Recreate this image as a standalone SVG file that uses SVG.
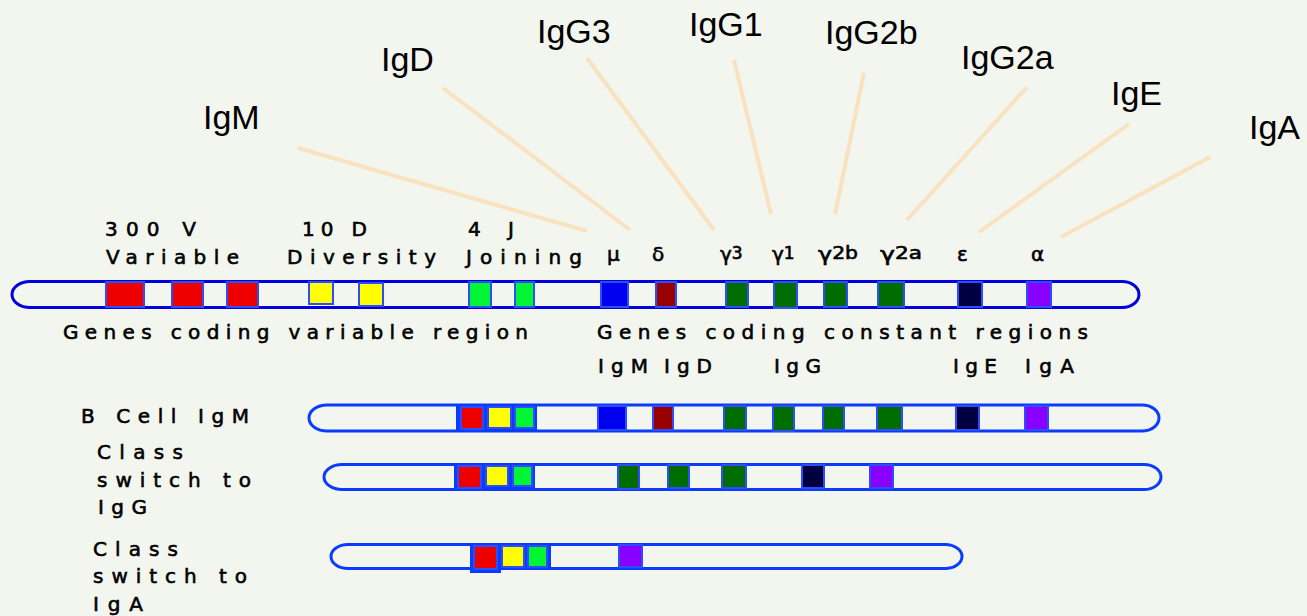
<svg xmlns="http://www.w3.org/2000/svg" width="1307" height="616" viewBox="0 0 1307 616">
<style>
.bg{fill:#f3f5ef}
.lead{stroke:#f8e2c0;stroke-width:4;fill:none;stroke-linecap:butt}
.big{font-family:"Liberation Sans",Arial,sans-serif;font-size:34px;fill:#000}
.px{font-family:"DejaVu Sans","Liberation Sans",sans-serif;font-size:20px;fill:#000;stroke:#000;stroke-width:0.6}
.bar0{fill:#f3f5ef;stroke:#0000dd;stroke-width:3}
.bar{fill:#f3f5ef;stroke:#0a3cff;stroke-width:3}
.g{stroke:#2b4cff;stroke-width:2}
.blk{fill:#0a3cff}
.red{fill:#ee0000}.yel{fill:#ffff00}.lg{fill:#00f633}.dg{fill:#006d00}
.blu{fill:#0000ee}.dr{fill:#990000}.nv{fill:#000040}.pu{fill:#8800ff}
</style>
<rect class="bg" x="0" y="0" width="1307" height="616"/>

<g id="connectors">
<line class="lead" x1="298" y1="148" x2="587" y2="231"/>
<line class="lead" x1="443" y1="88" x2="630" y2="230"/>
<line class="lead" x1="587" y1="58" x2="714" y2="230"/>
<line class="lead" x1="734" y1="60" x2="771" y2="214"/>
<line class="lead" x1="864" y1="73" x2="835" y2="214"/>
<line class="lead" x1="1027" y1="87" x2="907" y2="220"/>
<line class="lead" x1="1129" y1="124" x2="979" y2="232"/>
<line class="lead" x1="1210" y1="157" x2="1061" y2="237"/>
</g>

<g id="label-IgM"><text class="big" x="203" y="129">IgM</text></g>
<g id="label-IgD"><text class="big" x="381" y="71">IgD</text></g>
<g id="label-IgG3"><text class="big" x="537" y="43">IgG3</text></g>
<g id="label-IgG1"><text class="big" x="689" y="36">IgG1</text></g>
<g id="label-IgG2b"><text class="big" x="825" y="44">IgG2b</text></g>
<g id="label-IgG2a"><text class="big" x="961" y="69">IgG2a</text></g>
<g id="label-IgE"><text class="big" x="1111" y="105">IgE</text></g>
<g id="label-IgA"><text class="big" x="1249" y="139">IgA</text></g>

<g id="germline">
<text class="px" x="105" y="236" textLength="91" lengthAdjust="spacing">300 V</text>
<text class="px" x="106" y="264" textLength="133" lengthAdjust="spacing">Variable</text>
<text class="px" x="302" y="236" textLength="65" lengthAdjust="spacing">10 D</text>
<text class="px" x="287" y="264" textLength="149" lengthAdjust="spacing">Diversity</text>
<text class="px" x="468" y="236" textLength="46" lengthAdjust="spacing">4 J</text>
<text class="px" x="466" y="264" textLength="116" lengthAdjust="spacing">Joining</text>
<text class="px" x="607" y="261">μ</text>
<text class="px" x="652" y="261">δ</text>
<text class="px" x="720" y="261">γ<tspan font-size="17" dy="-2">3</tspan></text>
<text class="px" x="772" y="261">γ<tspan font-size="17" dy="-2">1</tspan></text>
<text class="px" x="818" y="261" textLength="40" lengthAdjust="spacingAndGlyphs">γ<tspan font-size="17" dy="-2">2b</tspan></text>
<text class="px" x="880" y="261" textLength="42" lengthAdjust="spacingAndGlyphs">γ<tspan font-size="17" dy="-2">2a</tspan></text>
<text class="px" x="957" y="261">ε</text>
<text class="px" x="1031" y="261">α</text>
<path class="bar0" d="M30,281.5 H1122 A17,13 0 0 1 1122,307.5 H30 A18,13 0 0 1 30,281.5 Z"/>
<g class="g">
<rect class="red" x="106" y="282" width="38" height="25"/>
<rect class="red" x="172" y="282" width="31" height="25"/>
<rect class="red" x="227" y="282" width="31" height="25"/>
<rect class="yel" x="309" y="282" width="24" height="22"/>
<rect class="yel" x="359" y="283" width="24" height="23"/>
<rect class="lg" x="469" y="282" width="22" height="25"/>
<rect class="lg" x="515" y="282" width="19" height="25"/>
<rect class="blu" x="601" y="282" width="27" height="25"/>
<rect class="dr" x="656" y="282" width="20" height="25"/>
<rect class="dg" x="726" y="282" width="22" height="25"/>
<rect class="dg" x="774" y="282" width="23" height="26"/>
<rect class="dg" x="824" y="282" width="23" height="25"/>
<rect class="dg" x="878" y="282" width="26" height="25"/>
<rect class="nv" x="958" y="282" width="24" height="25"/>
<rect class="pu" x="1027" y="282" width="24" height="25"/>
</g>
<text class="px" x="63" y="339" textLength="465" lengthAdjust="spacing">Genes coding variable region</text>
<text class="px" x="597" y="339" textLength="491" lengthAdjust="spacing">Genes coding constant regions</text>
<text class="px" x="598" y="373" textLength="50" lengthAdjust="spacing">IgM</text>
<text class="px" x="664" y="373" textLength="48" lengthAdjust="spacing">IgD</text>
<text class="px" x="774" y="373" textLength="47" lengthAdjust="spacing">IgG</text>
<text class="px" x="953" y="373" textLength="44" lengthAdjust="spacing">IgE</text>
<text class="px" x="1025" y="373" textLength="49" lengthAdjust="spacing">IgA</text>
</g>

<g id="bcell-igm">
<text class="px" x="81" y="423" textLength="168" lengthAdjust="spacing">B Cell IgM</text>
<path class="bar" d="M327,405 H1142 A17,13 0 0 1 1142,431 H327 A18,13 0 0 1 327,405 Z"/>
<rect class="blk" x="456" y="404" width="81" height="28"/>
<g class="g">
<rect class="red" x="461" y="407" width="22" height="22"/>
<rect class="yel" x="488" y="407" width="23" height="21"/>
<rect class="lg" x="515" y="407" width="19" height="21"/>
<rect class="blu" x="598" y="406" width="28" height="24"/>
<rect class="dr" x="653" y="406" width="20" height="24"/>
<rect class="dg" x="724" y="406" width="22" height="24"/>
<rect class="dg" x="773" y="406" width="21" height="25"/>
<rect class="dg" x="823" y="406" width="21" height="24"/>
<rect class="dg" x="877" y="406" width="25" height="24"/>
<rect class="nv" x="956" y="406" width="23" height="24"/>
<rect class="pu" x="1025" y="406" width="23" height="24"/>
</g>
</g>

<g id="switch-igg">
<text class="px" x="97" y="459" textLength="86" lengthAdjust="spacing">Class</text>
<text class="px" x="97" y="487" textLength="154" lengthAdjust="spacing">switch to</text>
<text class="px" x="98" y="514" textLength="49" lengthAdjust="spacing">IgG</text>
<path class="bar" d="M342,464.5 H1144 A17,12.5 0 0 1 1144,489.5 H342 A18,12.5 0 0 1 342,464.5 Z"/>
<rect class="blk" x="454" y="463" width="81" height="28"/>
<g class="g">
<rect class="red" x="458" y="466" width="23" height="22"/>
<rect class="yel" x="486" y="466" width="22" height="20"/>
<rect class="lg" x="513" y="466" width="19" height="20"/>
<rect class="dg" x="618" y="465" width="21" height="24"/>
<rect class="dg" x="668" y="465" width="21" height="23"/>
<rect class="dg" x="722" y="465" width="24" height="23"/>
<rect class="nv" x="802" y="465" width="22" height="23"/>
<rect class="pu" x="870" y="465" width="23" height="23"/>
</g>
</g>

<g id="switch-iga">
<text class="px" x="93" y="556" textLength="85" lengthAdjust="spacing">Class</text>
<text class="px" x="93" y="583" textLength="154" lengthAdjust="spacing">switch to</text>
<text class="px" x="93" y="611" textLength="50" lengthAdjust="spacing">IgA</text>
<path class="bar" d="M348,544.5 H945 A17,12 0 0 1 945,568.5 H348 A17,12 0 0 1 348,544.5 Z"/>
<rect class="blk" x="470" y="543" width="81" height="27"/>
<rect class="blk" x="470" y="543" width="31" height="30"/>
<g class="g">
<rect class="red" x="474" y="546" width="23" height="23"/>
<rect class="yel" x="502" y="546" width="22" height="21"/>
<rect class="lg" x="528" y="546" width="19" height="21"/>
<rect class="pu" x="619" y="545" width="23" height="22"/>
</g>
</g>
</svg>
